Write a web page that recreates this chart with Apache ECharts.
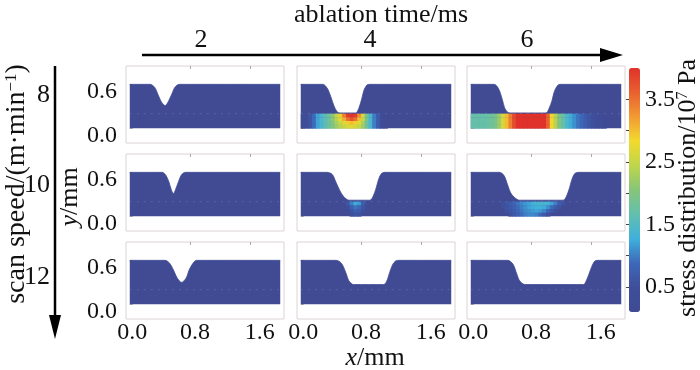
<!DOCTYPE html>
<html><head><meta charset="utf-8">
<script src="https://cdn.jsdelivr.net/npm/echarts@6/dist/echarts.min.js"></script>
<style>html,body{margin:0;padding:0;background:#fff}#c{width:700px;height:370px}</style>
</head><body><div id="c"></div>
<script>
// ---------- data ----------
const timeLabels = ['2', '4', '6'];          // ablation time / ms
const speedLabels = ['8', '10', '12'];       // scan speed / (m·min^-1)
const xTicks = [0, 0.8, 1.6];
const yTicks = [0, 0.6];
const cbLabels = [0.5, 1.5, 2.5, 3.5];
const cbTickValues = [0.5, 1.0, 1.5, 2.0, 2.5, 3.0, 3.5];
const cbMin = 0.1, cbMax = 4.0;
const sampleWidth = 2.0;   // mm
const surfaceY = 0.6;      // mm
const interfaceY = 0.2;    // mm
const cellSize = 0.05;     // mm, stress sampling step

// groove profiles [x mm, y mm]
const grooveR1C1 = [[0.27,0.6],[0.33,0.56],[0.38,0.45],[0.42,0.36],[0.47,0.31],[0.51,0.36],[0.56,0.47],[0.60,0.56],[0.66,0.6]];
const grooveR1C2 = [[0.29,0.6],[0.35,0.55],[0.40,0.43],[0.44,0.31],[0.48,0.23],[0.52,0.21],[0.73,0.21],[0.77,0.27],[0.81,0.40],[0.84,0.52],[0.88,0.59],[0.92,0.6]];
const grooveR1C3 = [[0.31,0.6],[0.37,0.54],[0.42,0.39],[0.45,0.28],[0.49,0.22],[0.53,0.21],[1.00,0.21],[1.04,0.27],[1.08,0.38],[1.11,0.50],[1.16,0.59],[1.21,0.6]];
const grooveR2C1 = [[0.43,0.6],[0.48,0.56],[0.52,0.47],[0.55,0.37],[0.58,0.31],[0.61,0.37],[0.65,0.48],[0.69,0.57],[0.74,0.6]];
const grooveR2C2 = [[0.35,0.6],[0.42,0.57],[0.47,0.46],[0.52,0.35],[0.57,0.27],[0.64,0.22],[0.92,0.22],[0.96,0.27],[1.00,0.38],[1.03,0.49],[1.07,0.58],[1.12,0.6]];
const grooveR2C3 = [[0.38,0.6],[0.44,0.56],[0.49,0.43],[0.53,0.32],[0.59,0.25],[0.65,0.22],[1.23,0.22],[1.27,0.27],[1.31,0.38],[1.34,0.49],[1.38,0.58],[1.43,0.6]];
const grooveR3C1 = [[0.47,0.6],[0.53,0.56],[0.58,0.47],[0.63,0.36],[0.69,0.30],[0.75,0.36],[0.79,0.47],[0.84,0.56],[0.89,0.6]];
const grooveR3C2 = [[0.47,0.6],[0.54,0.56],[0.60,0.43],[0.64,0.32],[0.70,0.27],[1.10,0.27],[1.14,0.31],[1.18,0.43],[1.22,0.54],[1.26,0.59],[1.31,0.6]];
const grooveR3C3 = [[0.49,0.6],[0.56,0.55],[0.61,0.42],[0.65,0.32],[0.72,0.27],[1.50,0.27],[1.53,0.31],[1.57,0.41],[1.61,0.52],[1.65,0.59],[1.70,0.6]];

// stress (10^7 Pa) in the lower layer, rows top->bottom, columns from x = 0 in 0.05 mm steps
const stressR1C2 = [
  [0.3,0.4,0.6,0.9,1.2,1.4,1.6,1.8,2.1,2.5,2.9,3.4,3.9,4.0,3.9,3.3,2.6,1.9,1.4,1.0,0.7,0.4,0.2],
  [0.3,0.4,0.6,0.9,1.2,1.4,1.6,1.8,2.1,2.4,2.7,3.1,3.5,3.7,3.5,3.0,2.5,1.9,1.4,1.0,0.7,0.4,0.2],
  [0.3,0.4,0.6,0.9,1.2,1.4,1.6,1.8,2.0,2.3,2.5,2.7,2.9,3.0,2.9,2.7,2.3,1.8,1.4,1.0,0.7,0.4,0.2],
  [0.3,0.4,0.6,0.9,1.2,1.4,1.6,1.8,2.0,2.2,2.4,2.5,2.6,2.7,2.6,2.5,2.2,1.8,1.4,1.0,0.7,0.4,0.2]
];
const stressR1C3 = [
  [1.7,1.7,1.7,1.7,1.75,1.8,1.9,2.2,2.6,3.0,3.4,3.8,4.0,4.0,4.0,4.0,4.0,4.0,4.0,4.0,3.6,2.85,2.4,2.0,1.7,1.45,1.25,1.1,0.95,0.85,0.7,0.6,0.5,0.4,0.3,0.2],
  [1.7,1.7,1.7,1.7,1.75,1.8,1.9,2.2,2.6,3.0,3.4,3.8,4.0,4.0,4.0,4.0,4.0,4.0,4.0,4.0,3.6,2.85,2.4,2.0,1.7,1.45,1.25,1.1,0.95,0.85,0.7,0.6,0.5,0.4,0.3,0.2],
  [1.7,1.7,1.7,1.7,1.75,1.8,1.9,2.2,2.6,3.0,3.4,3.8,4.0,4.0,4.0,4.0,4.0,4.0,4.0,4.0,3.6,2.85,2.4,2.0,1.7,1.45,1.25,1.1,0.95,0.85,0.7,0.6,0.5,0.4,0.3,0.2],
  [1.7,1.7,1.7,1.7,1.75,1.8,1.9,2.2,2.6,3.0,3.4,3.8,4.0,4.0,4.0,4.0,4.0,4.0,4.0,4.0,3.6,2.85,2.4,2.0,1.7,1.45,1.25,1.1,0.95,0.85,0.7,0.6,0.5,0.4,0.3,0.2]
];
const stressR2C2 = [
  [0,0,0,0,0,0,0,0,0,0,0,0,0.65,1.0,1.25,1.15,0.75,0.45],
  [0,0,0,0,0,0,0,0,0,0,0,0,0.5,0.75,0.95,0.85,0.6],
  [0,0,0,0,0,0,0,0,0,0,0,0,0,0.6,0.75,0.7,0.5],
  [0,0,0,0,0,0,0,0,0,0,0,0,0,0.5,0.6,0.55]
];
const stressR2C3 = [
  [0,0,0,0,0,0,0,0,0.55,0.6,0.7,0.8,0.95,1.05,1.15,1.2,1.3,1.35,1.4,1.4,1.35,1.2,1.0,0.75,0.55],
  [0,0,0,0,0,0,0,0,0.5,0.6,0.65,0.75,0.9,1.0,1.1,1.2,1.25,1.3,1.3,1.25,1.1,0.9,0.7,0.55],
  [0,0,0,0,0,0,0,0,0,0.55,0.6,0.7,0.85,0.95,1.05,1.1,1.15,1.2,1.15,1.05,0.85,0.65,0.5],
  [0,0,0,0,0,0,0,0,0,0,0.55,0.65,0.75,0.9,1.0,1.05,1.05,1.0,0.85,0.65,0.5]
];

const panelGrooves = [grooveR1C1, grooveR1C2, grooveR1C3, grooveR2C1, grooveR2C2, grooveR2C3, grooveR3C1, grooveR3C2, grooveR3C3];
const panelStress  = [null, stressR1C2, stressR1C3, null, stressR2C2, stressR2C3, null, null, null];

// ---------- style / layout ----------
const FONT = '"Liberation Serif","Times New Roman",serif';
const BLUE = '#404b93';
const jet = ['#3f4a93','#3f4e9a','#3d68b9','#3fb0dc','#62bfae','#86c57a','#bfd54c','#f1da2e','#f29a33','#e9602f','#e0322a'];
const colLeft = [126, 297, 467], rowTop = [66, 154, 242];
const PW = 158, PH = 77;

const grids = [], xAxes = [], yAxes = [], series = [], stressIdx = [];
panelGrooves.forEach((groove, i) => {
  const r = Math.floor(i / 3), c = i % 3;
  grids.push({left: colLeft[c], top: rowTop[r], width: PW, height: PH, show: true,
    borderColor: '#dcd4d4', borderWidth: 1, backgroundColor: 'transparent'});
  const xi = xAxes.length;
  xAxes.push({type: 'value', gridIndex: i, min: -0.05, max: 2.05, position: 'bottom',
    axisLine: {show: false}, splitLine: {show: false}, axisTick: {show: false},
    axisLabel: {show: r === 2, customValues: xTicks, margin: 2,
      formatter: v => { const k = v < 0.4 ? 'a' : (v < 1.2 ? 'b' : 'c'); return '{' + k + '|' + v.toFixed(1) + '}'; },
      rich: {
        a: {fontFamily: FONT, fontSize: 24, color: '#111', padding: [0, 0, 0, 5]},
        b: {fontFamily: FONT, fontSize: 24, color: '#111', padding: [0, 0, 0, 10]},
        c: {fontFamily: FONT, fontSize: 24, color: '#111', padding: [0, 0, 0, 19]}
      }}});
  xAxes.push({type: 'value', gridIndex: i, min: -0.05, max: 2.05, position: 'top',
    axisLine: {show: false}, splitLine: {show: false}, axisLabel: {show: false},
    axisTick: {show: true, inside: true, length: 3, customValues: xTicks.slice(1), lineStyle: {color: '#aaa'}}});
  yAxes.push({type: 'value', gridIndex: i, min: -0.2, max: 0.85,
    axisLine: {show: false}, splitLine: {show: false},
    axisTick: {show: true, inside: true, length: 3, customValues: yTicks, lineStyle: {color: '#aaa'}},
    axisLabel: {show: c === 0, customValues: yTicks, margin: 9, fontFamily: FONT, fontSize: 24, color: '#111',
      verticalAlign: 'top', lineHeight: 14, formatter: v => v.toFixed(1)}});
  const profile = [[0, surfaceY]].concat(groove, [[sampleWidth, surfaceY]]);
  series.push({type: 'line', xAxisIndex: xi, yAxisIndex: i, data: profile, smooth: 0.3,
    showSymbol: false, symbol: 'none', lineStyle: {width: 0.8, color: BLUE},
    areaStyle: {color: BLUE, opacity: 1, origin: 'auto'}, silent: true, z: 2});
  series.push({type: 'line', xAxisIndex: xi, yAxisIndex: i, data: [[0, interfaceY], [sampleWidth, interfaceY]],
    showSymbol: false, symbol: 'none', lineStyle: {width: 1, color: 'rgba(170,190,235,0.22)', type: [2, 5]}, silent: true, z: 4});
  const st = panelStress[i];
  if (st) {
    const cells = [];
    st.forEach((row, ri) => row.forEach((v, ci) => {
      if (v > 0) cells.push([cellSize * (ci + 0.5), interfaceY - cellSize * (ri + 0.5), v]);
    }));
    stressIdx.push(series.length);
    series.push({type: 'custom', xAxisIndex: xi, yAxisIndex: i, data: cells, z: 3, silent: true,
      encode: {x: 0, y: 1},
      renderItem: (params, api) => {
        const x = api.value(0), y = api.value(1);
        const p0 = api.coord([x - cellSize / 2, y + cellSize / 2]);
        const p1 = api.coord([x + cellSize / 2, y - cellSize / 2]);
        return {type: 'rect', shape: {x: p0[0], y: p0[1], width: p1[0] - p0[0] + 0.6, height: p1[1] - p0[1] + 0.3},
          style: {fill: api.visual('color')}};
      }});
  }
});

// colour-bar axis
const cbGrid = grids.length;
grids.push({left: 629, top: 68, width: 11, height: 244, show: false});
xAxes.push({type: 'value', gridIndex: cbGrid, show: false, min: 0, max: 1});
yAxes.push({type: 'value', gridIndex: cbGrid, min: cbMin, max: cbMax, position: 'right',
  axisLine: {show: false}, splitLine: {show: false},
  axisTick: {show: true, inside: true, length: 3, customValues: cbTickValues, lineStyle: {color: '#444'}},
  axisLabel: {customValues: cbLabels, margin: 5, fontFamily: FONT, fontSize: 24, color: '#111', formatter: v => v.toFixed(1)}});

const T = (text, x, y, size, extra) => Object.assign({type: 'text', x, y, silent: true,
  style: {text, fontFamily: FONT, fontSize: size, fill: '#111', align: 'center', verticalAlign: 'middle',
    rich: {i: {fontFamily: FONT, fontSize: size, fontStyle: 'italic', fill: '#111'},
           n: {fontFamily: FONT, fontSize: size, fill: '#111'},
           sup: {fontFamily: FONT, fontSize: Math.round(size * 0.6), fill: '#111', verticalAlign: 'top'}}}}, extra || {});

const graphics = [
  T('ablation time/ms', 381, 15, 26),
  {type: 'line', shape: {x1: 142, y1: 55, x2: 606, y2: 55}, style: {stroke: '#000', lineWidth: 2.5}, silent: true},
  {type: 'polygon', shape: {points: [[600, 48], [623, 55], [600, 62]]}, style: {fill: '#000'}, silent: true},
  {type: 'line', shape: {x1: 55, y1: 66, x2: 55, y2: 320}, style: {stroke: '#000', lineWidth: 2.5}, silent: true},
  {type: 'polygon', shape: {points: [[49, 315], [55, 339], [61, 315]]}, style: {fill: '#000'}, silent: true},
  T('{n|scan speed/(m·min}{sup|−1}{n|)}', 17, 184, 28, {rotation: Math.PI / 2}),
  T('{i|y}{n|/mm}', 70, 197, 26, {rotation: Math.PI / 2}),
  T('{i|x}{n|/mm}', 375, 358, 26),
  T('{n|stress distribution/10}{sup|7}{n| Pa}', 688, 188, 26, {rotation: Math.PI / 2})
];
const timeX = [201, 370, 527];
timeLabels.forEach((t, k) => graphics.push(T(t, timeX[k], 40, 26)));
const speedY = [95, 185, 277];
speedLabels.forEach((t, k) => graphics.push(T(t, 50, speedY[k], 26, {style: {text: t, fontFamily: FONT, fontSize: 26, fill: '#111', align: 'right', verticalAlign: 'middle'}})));

const chart = echarts.init(document.getElementById('c'), null, {renderer: 'canvas'});
chart.setOption({
  animation: false,
  backgroundColor: '#fff',
  grid: grids, xAxis: xAxes, yAxis: yAxes, series,
  visualMap: {type: 'continuous', min: cbMin, max: cbMax, dimension: 2, seriesIndex: stressIdx,
    calculable: false, orient: 'vertical', left: 624, top: 63, padding: 5, itemWidth: 11, itemHeight: 244,
    inRange: {color: jet}, textStyle: {color: 'transparent'}, text: null},
  graphic: {elements: graphics}
});
</script></body></html>
